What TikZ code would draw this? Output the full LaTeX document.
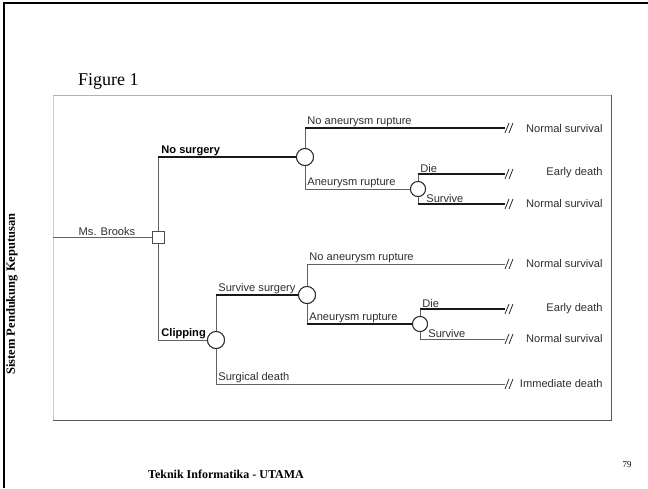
\documentclass[tikz,border=0pt]{standalone}
\usepackage{fontspec}
\setmainfont{Liberation Serif}
\newfontfamily\arialf{Liberation Sans}
\begin{document}
\begin{tikzpicture}[x=1pt,y=-1pt,
  thinline/.style={draw=black!62,line width=1pt},
  thickline/.style={draw=black!90,line width=1.4pt},
  chance/.style={circle,draw=black!85,line width=0.9pt,fill=white,minimum size=17pt,inner sep=0pt},
  smallchance/.style={chance,minimum size=15pt},
  decision/.style={rectangle,draw=black!70,line width=0.9pt,fill=white,minimum size=12pt,inner sep=0pt},
  lbl/.style={font=\arialf\fontsize{11.1}{12}\selectfont,text=black!82,inner sep=1.2pt},
  blbl/.style={lbl,font=\arialf\bfseries\fontsize{11.1}{12}\selectfont,text=black},
  brkmark/.style={draw=black!85,line width=0.8pt}]
\useasboundingbox (0,0) rectangle (648,488);
% page border
\draw[line width=2pt] (4,488) -- (4,3) -- (648,3);
% side text
\node[rotate=90,font=\bfseries\fontsize{12.5}{14}\selectfont] (side) at (12,294) {Sistem Pendukung Keputusan};
\node[anchor=base west,font=\fontsize{18}{20}\selectfont,inner sep=0pt] (fig) at (78,85) {Figure 1};
\node[font=\bfseries\fontsize{12}{14}\selectfont] (foot) at (226,474) {Teknik Informatika - UTAMA};
\node[font=\fontsize{9}{10}\selectfont] (pg) at (627,465) {79};
% figure frame
\draw[draw=black!30,line width=0.6pt] (53,420) -- (53,95) -- (611,95);
\draw[draw=black!20,line width=0.4pt] (53,96) -- (53,420);
\draw[draw=black!65,line width=1pt] (611,95) -- (611,420) -- (53,420);
% nodes
\coordinate (start) at (53,237);
\node[decision] (sq) at (158,237) {};
\node[chance] (c1) at (305,157) {};
\node[smallchance] (c2) at (418,189) {};
\node[chance] (cc) at (216,340) {};
\node[chance] (c3) at (307,295) {};
\node[smallchance] (c4) at (420,324) {};
\coordinate (t1) at (505,128);
\coordinate (t2) at (505,174);
\coordinate (t3) at (505,204);
\coordinate (t4) at (505,264);
\coordinate (t5) at (505,309);
\coordinate (t6) at (505,339);
\coordinate (t7) at (505,384);
% connectors
\draw[thinline] (start) -- (sq.west);
\draw[thinline] (sq.north) -- (sq.north |- c1);
\draw[thickline] (sq.north |- c1) -- (c1.west);
\draw[thinline] (c1.north) -- (c1.north |- t1);
\draw[thickline] (c1.north |- t1) -- (t1);
\draw[thinline] (c1.south) |- (c2.west);
\draw[thinline] (c2.north) -- (c2.north |- t2);
\draw[thickline] (c2.north |- t2) -- (t2);
\draw[thinline] (c2.south) -- (c2.south |- t3);
\draw[thickline] (c2.south |- t3) -- (t3);
\draw[thinline] (sq.south) |- (cc.west);
\draw[thinline] (cc.north) -- (cc.north |- c3);
\draw[thickline] (cc.north |- c3) -- (c3.west);
\draw[thinline] (c3.north) |- (t4);
\draw[thinline] (c3.south) -- (c3.south |- c4);
\draw[thickline] (c3.south |- c4) -- (c4.west);
\draw[thinline] (c4.north) -- (c4.north |- t5);
\draw[thickline] (c4.north |- t5) -- (t5);
\draw[thinline] (c4.south) |- (t6);
\draw[thinline] (cc.south) |- (t7);
% redraw circles on top
\node[decision] at (sq) {};
\node[chance] at (c1) {};
\node[smallchance] at (c2) {};
\node[chance] at (cc) {};
\node[chance] at (c3) {};
\node[smallchance] at (c4) {};
% break marks
\foreach \t in {t1,t2,t3,t4,t5,t6,t7}{
  \draw[brkmark] ([shift={(0,5)}]\t) -- ++(4,-10);
  \draw[brkmark] ([shift={(4,5)}]\t) -- ++(4,-10);
}
% branch labels
\node[lbl,anchor=south] (lms) at (107,237) {Ms. Brooks};
\node[blbl,anchor=south west] (lns) at (160,157) {No surgery};
\node[lbl,anchor=south west] (lnr1) at (306,128) {No aneurysm rupture};
\node[lbl,anchor=south west] (lar1) at (306,189) {Aneurysm rupture};
\node[lbl,anchor=south west] (ld1) at (419,174) {Die};
\node[lbl,anchor=south west] (ls1) at (425,204) {Survive};
\node[blbl,anchor=south west] (lcl) at (160,340) {Clipping};
\node[lbl,anchor=south west] (lss) at (217,295) {Survive surgery};
\node[lbl,anchor=south west] (lnr2) at (308,264) {No aneurysm rupture};
\node[lbl,anchor=south west] (lar2) at (308,324) {Aneurysm rupture};
\node[lbl,anchor=south west] (ld2) at (421,309) {Die};
\node[lbl,anchor=south west] (ls2) at (427,339) {Survive};
\node[lbl,anchor=south west] (lsd) at (217,384) {Surgical death};
% outcome labels
\node[lbl,anchor=east] (o1) at (604,129) {Normal survival};
\node[lbl,anchor=east] (o2) at (604,173) {Early death};
\node[lbl,anchor=east] (o3) at (604,204) {Normal survival};
\node[lbl,anchor=east] (o4) at (604,264) {Normal survival};
\node[lbl,anchor=east] (o5) at (604,309) {Early death};
\node[lbl,anchor=east] (o6) at (604,339) {Normal survival};
\node[lbl,anchor=east] (o7) at (604,384) {Immediate death};
\end{tikzpicture}
\end{document}
